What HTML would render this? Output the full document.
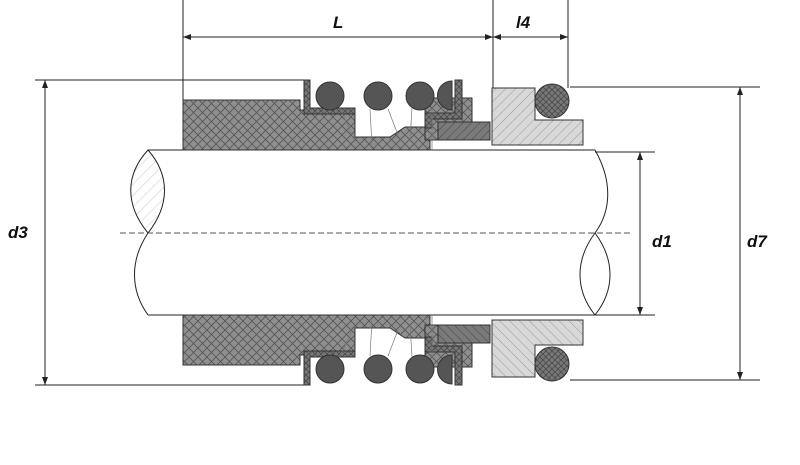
<!DOCTYPE html>
<html><head><meta charset="utf-8"><style>
html,body{margin:0;padding:0;background:#fff;}
svg{display:block}
text{font-family:"Liberation Sans",sans-serif;font-weight:bold;font-style:italic;font-size:17px;fill:#111}
</style></head><body>
<svg width="800" height="465" viewBox="0 0 800 465" xmlns="http://www.w3.org/2000/svg">
<defs>
<pattern id="xh" width="9" height="9" patternUnits="userSpaceOnUse">
<rect width="9" height="9" fill="#8f8f8f"/>
<path d="M0,0L9,9M9,0L0,9" stroke="#555" stroke-width="0.8"/>
</pattern>
<pattern id="xh2" width="6" height="6" patternUnits="userSpaceOnUse">
<rect width="6" height="6" fill="#777"/>
<path d="M0,0L6,6M6,0L0,6" stroke="#444" stroke-width="0.7"/>
</pattern>
<pattern id="lh" width="7" height="7" patternUnits="userSpaceOnUse" patternTransform="rotate(45)">
<rect width="7" height="7" fill="#d8d8d8"/>
<line x1="0" y1="0" x2="0" y2="7" stroke="#888" stroke-width="0.8"/>
</pattern>
<pattern id="dh" width="6" height="6" patternUnits="userSpaceOnUse" patternTransform="rotate(45)">
<rect width="6" height="6" fill="#7a7a7a"/>
<line x1="0" y1="0" x2="0" y2="6" stroke="#333" stroke-width="0.8"/>
</pattern>
<pattern id="sh" width="8" height="8" patternUnits="userSpaceOnUse" patternTransform="rotate(45)">
<rect width="8" height="8" fill="#fff"/>
<line x1="0" y1="0" x2="0" y2="8" stroke="#bbb" stroke-width="0.8"/>
</pattern>
<marker id="ar" markerWidth="8" markerHeight="6" refX="8" refY="3" orient="auto"><path d="M0,0L8,3L0,6z" fill="#222"/></marker>
<g id="half" stroke="#333" stroke-width="1">
<path d="M183,100 L300,100 L300,110 L355,110 L355,137 L390,137 L405,127 L430,127 L430,150 L183,150 Z" fill="url(#xh)"/>
<path d="M304,80 L310,80 L310,108 L355,108 L355,114 L304,114 Z" fill="url(#xh2)"/>
<path d="M425,98 L472,98 L472,140 L425,140 Z" fill="url(#xh)"/>
<path d="M425,113 L455,113 L455,80 L462,80 L462,119 L432,119 L432,128 L425,128 Z" fill="url(#xh2)"/>
<rect x="438" y="122" width="52" height="18" fill="url(#dh)"/>
<path d="M492,88 L535,88 L535,120 L583,120 L583,145 L492,145 Z" fill="url(#lh)"/>
<circle cx="552" cy="101" r="17" fill="url(#xh2)"/>
<g fill="#555" stroke="#333">
<circle cx="330" cy="96" r="14"/><circle cx="378" cy="96" r="14"/><circle cx="420" cy="96" r="14"/>
<path d="M452,81 A14,14 0 0 0 452,110 Z"/>
</g>
<g stroke="#777" stroke-width="0.7" fill="none">
<path d="M340,108 L352,135 M370,109 L372,145 M388,109 L398,135 M412,108 L410,140 M432,108 L432,150"/>
</g>
</g>
</defs>
<!-- dimension lines -->
<g stroke="#222" stroke-width="1" fill="none">
<line x1="183" y1="0" x2="183" y2="100"/>
<line x1="493" y1="0" x2="493" y2="88"/>
<line x1="568" y1="0" x2="568" y2="88"/>
<line x1="183" y1="37" x2="493" y2="37" marker-end="url(#ar)"/>
<line x1="493" y1="37" x2="183" y2="37" marker-end="url(#ar)"/>
<line x1="493" y1="37" x2="568" y2="37" marker-end="url(#ar)"/>
<line x1="568" y1="37" x2="493" y2="37" marker-end="url(#ar)"/>
<line x1="35" y1="80" x2="304" y2="80"/>
<line x1="35" y1="385" x2="304" y2="385"/>
<line x1="45" y1="80" x2="45" y2="385" marker-end="url(#ar)"/>
<line x1="45" y1="385" x2="45" y2="80" marker-end="url(#ar)"/>
<line x1="570" y1="87" x2="760" y2="87"/>
<line x1="570" y1="380" x2="760" y2="380"/>
<line x1="740" y1="87" x2="740" y2="380" marker-end="url(#ar)"/>
<line x1="740" y1="380" x2="740" y2="87" marker-end="url(#ar)"/>
<line x1="595" y1="152" x2="655" y2="152"/>
<line x1="595" y1="315" x2="655" y2="315"/>
<line x1="640" y1="152" x2="640" y2="315" marker-end="url(#ar)"/>
<line x1="640" y1="315" x2="640" y2="152" marker-end="url(#ar)"/>
</g>
<text x="333" y="28">L</text>
<text x="516" y="28">l4</text>
<text x="8" y="238">d3</text>
<text x="652" y="247">d1</text>
<text x="747" y="247">d7</text>
<!-- shaft -->
<g stroke="#222" stroke-width="1">
<rect x="148" y="150" width="447" height="165" fill="#fff" stroke="none"/>
<line x1="148" y1="150" x2="595" y2="150"/>
<line x1="148" y1="315" x2="595" y2="315"/>
<path d="M148,150 C125,175 125,205 148,233 C170,205 170,175 148,150 Z" fill="url(#sh)"/>
<path d="M148,233 C130,260 130,290 148,315" fill="none"/>
<path d="M595,150 C612,180 612,210 595,233" fill="none"/>
<path d="M595,233 C575,260 575,290 595,315 C615,290 615,260 595,233 Z" fill="#fff"/>
<line x1="120" y1="233" x2="630" y2="233" stroke="#555" stroke-dasharray="6,3"/>
</g>
<use href="#half"/>
<use href="#half" transform="translate(0,465) scale(1,-1)"/>
</svg>
</body></html>
